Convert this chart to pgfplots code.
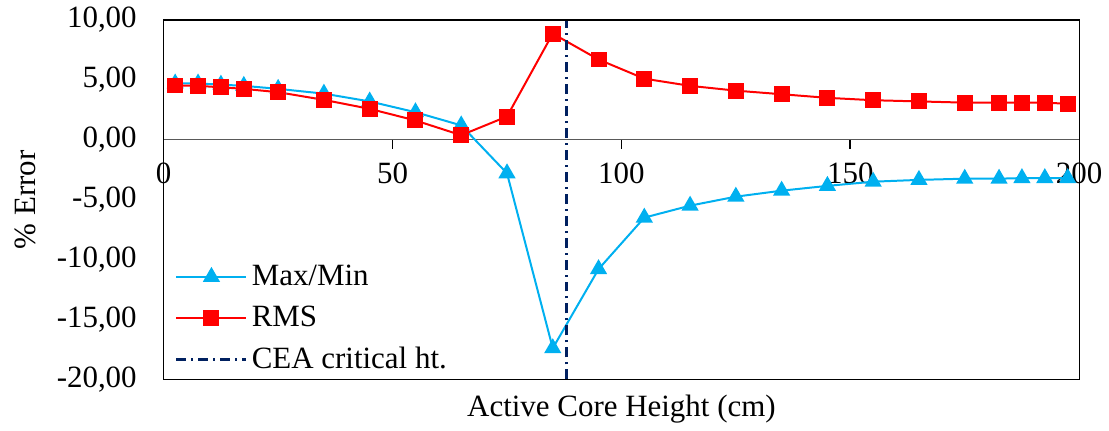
\documentclass[border=0pt]{standalone}
\usepackage{pgfplots}
\pgfplotsset{compat=1.18}
\usepackage{fontspec}
\setmainfont{Liberation Serif}
\definecolor{cblue}{RGB}{0,176,240}
\definecolor{cred}{RGB}{255,0,0}
\definecolor{cnavy}{RGB}{0,32,96}
\definecolor{cgray}{RGB}{89,89,89}
\pgfplotstableread{
x y
2.5 4.7
7.5 4.7
12.5 4.6
17.5 4.5
25 4.25
35 3.85
45 3.2
55 2.3
65 1.2
75 -2.8
85 -17.4
95 -10.8
105 -6.5
115 -5.5
125 -4.75
135 -4.25
145 -3.85
155 -3.5
165 -3.35
175 -3.25
182.5 -3.25
187.5 -3.2
192.5 -3.2
197.5 -3.2
}\maxmin
\pgfplotstableread{
x y
2.5 4.53
7.5 4.5
12.5 4.38
17.5 4.25
25 3.97
35 3.33
45 2.58
55 1.61
65 0.38
75 1.94
85 8.86
95 6.7
105 5.1
115 4.5
125 4.1
135 3.8
145 3.5
155 3.3
165 3.2
175 3.1
182.5 3.1
187.5 3.1
192.5 3.1
197.5 3.0
}\rms
\begin{document}
\begin{tikzpicture}[font=\rmfamily\fontsize{15.5}{18.6}\selectfont]
\begin{axis}[
  scale only axis,
  width=458.5pt, height=180pt,
  xmin=0, xmax=200, ymin=-20, ymax=10,
  axis x line=middle,
  axis y line=box,
  hide obscured x ticks=false,
  x axis line style={-, cgray, line width=0.7pt},
  y axis line style={black, line width=0.6pt},
  xtick={0,50,100,150,200},
  ytick={-20,-15,-10,-5,0,5,10},
  ytick style={draw=none},
  xtick style={draw=none},
  xticklabel shift=6pt,
  /pgf/number format/assume math mode=true,
  yticklabel style={/pgf/number format/fixed, /pgf/number format/fixed zerofill, /pgf/number format/precision=2, /pgf/number format/use comma, xshift=-10pt},
  xticklabel style={/pgf/number format/fixed, /pgf/number format/precision=0},
  xlabel={Active Core Height (cm)},
  ylabel={\% Error},
  every axis x label/.style={at={(axis description cs:0.5,-0.0833)}, anchor=center},
  every axis y label/.style={at={(axis description cs:-0.1516,0.5)}, anchor=center, rotate=90},
  legend style={at={(axis description cs:0.012,0.33)}, anchor=north west, draw=none, fill=none,
    row sep=4.8pt, inner sep=0pt, font=\rmfamily\fontsize{15.5}{18.6}\selectfont,
    /tikz/every even column/.append style={column sep=4.5pt}},
  legend cell align=left,
  legend image code/.code={\draw[mark repeat=2,mark phase=2] plot coordinates {(0pt,0pt)(17.5pt,0pt)(35pt,0pt)};},
  clip=false,
]
\addplot[forget plot, black, line width=0.9pt, only marks, mark=|, mark size=2.4pt, mark options={black, solid, line width=0.9pt, yshift=-2.4pt}] coordinates {(50,0) (100,0) (150,0)};
\addplot[cblue, line width=1pt, mark=triangle*, mark size=4pt, mark options={solid}] table[x=x,y=y] {\maxmin};
\addlegendentry{Max/Min}
\addplot[cred, line width=1pt, mark=square*, mark size=3.5pt, mark options={solid}] table[x=x,y=y] {\rms};
\addlegendentry{RMS}
\addplot[cnavy, line width=1.4pt, dash pattern=on 5pt off 2.5pt on 1pt off 2.5pt] coordinates {(88,-20) (88,10)};
\addlegendentry{CEA critical ht.}
\draw[black, line width=0.6pt] (rel axis cs:0,0) rectangle (rel axis cs:1,1);
\end{axis}
\path (current axis.south west) ++(-82pt,-24pt);
\path (current axis.north east) ++(14pt,10pt);
\end{tikzpicture}
\end{document}
